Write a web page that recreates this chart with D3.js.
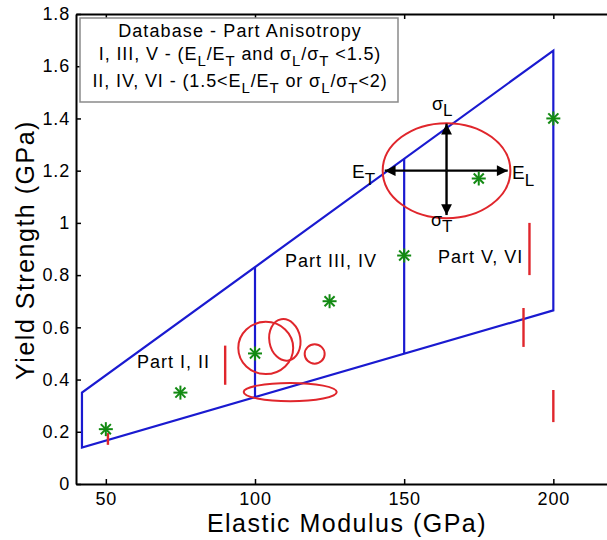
<!DOCTYPE html>
<html>
<head>
<meta charset="utf-8">
<script src="https://cdn.jsdelivr.net/npm/d3@7"></script>
<style>
  html, body { margin: 0; padding: 0; background: #fff; }
  svg { display: block; font-family: "Liberation Sans", Arial, sans-serif; }
</style>
</head>
<body>
<svg id="chart" width="607" height="540"></svg>
<script>
// Axis ranges and ticks
const xDomain = [40, 220];
const yDomain = [0, 1.8];
const xTicks = [50, 100, 150, 200];
const yTicks = [0, 0.2, 0.4, 0.6, 0.8, 1, 1.2, 1.4, 1.6, 1.8];

// Database envelope (blue): upper and lower bounds, region dividers
const envelopeX = [42, 200];
const envelopeUpper = [0.35, 1.66];
const envelopeLower = [0.14, 0.665];
const dividerX = [100, 150];

// Part data (green asterisks)
const partModulus = [50, 75, 100, 125, 150, 175, 200];
const partStrength = [0.21, 0.35, 0.50, 0.70, 0.875, 1.17, 1.40];

// Red vertical ranges: [modulus, low, high]
const rangeModulus = [50.7, 90, 190, 192, 200];
const rangeLow = [0.15, 0.38, 0.525, 0.80, 0.237];
const rangeHigh = [0.195, 0.53, 0.674, 1.00, 0.36];

// Red ellipses: center (modulus, strength), radii (modulus, strength), tilt in degrees
const ellCx = [103.6, 110, 120, 111.8, 164.2];
const ellCy = [0.521, 0.552, 0.498, 0.352, 1.20];
const ellRx = [9.2, 5.2, 3.35, 15.6, 21.4];
const ellRy = [0.10, 0.08, 0.037, 0.035, 0.182];
const ellTilt = [0, -10, 0, 0, 0];

// Anisotropy arrows in the large ellipse
const arrowCenter = [164.2, 1.20];
const arrowXEnds = [143.5, 184.7];
const arrowYEnds = [1.03, 1.38];

// Region labels
const partLabels = ["Part I, II", "Part III, IV", "Part V, VI"];
const partLabelX = [137, 285, 438];
const partLabelY = [368, 267, 263];

const svg = d3.select("#chart");
const x = d3.scaleLinear().domain(xDomain).range([76, 613]);
const y = d3.scaleLinear().domain(yDomain).range([484, 14]);

const blue = "#1a1ad0";
const red = "#e0262c";
const green = "#138a13";

// Envelope polygon and dividers
const env = svg.append("g").attr("fill", "none").attr("stroke", blue).attr("stroke-width", 2.2);
const outline = [
  [envelopeX[0], envelopeLower[0]],
  [envelopeX[0], envelopeUpper[0]],
  [envelopeX[1], envelopeUpper[1]],
  [envelopeX[1], envelopeLower[1]]
];
env.append("path")
  .attr("d", d3.line().x(d => x(d[0])).y(d => y(d[1]))(outline) + "Z")
  .attr("stroke-linejoin", "miter");
const interp = (xs, ys, v) => ys[0] + (v - xs[0]) / (xs[1] - xs[0]) * (ys[1] - ys[0]);
dividerX.forEach(v => {
  env.append("line")
    .attr("x1", x(v)).attr("x2", x(v))
    .attr("y1", y(interp(envelopeX, envelopeLower, v)))
    .attr("y2", y(interp(envelopeX, envelopeUpper, v)));
});

// Red ellipses
const ell = svg.append("g").attr("fill", "none").attr("stroke", red).attr("stroke-width", 2);
ellCx.forEach((cx, i) => {
  const px = x(cx), py = y(ellCy[i]);
  ell.append("ellipse")
    .attr("cx", px).attr("cy", py)
    .attr("rx", x(cx + ellRx[i]) - px)
    .attr("ry", py - y(ellCy[i] + ellRy[i]))
    .attr("transform", `rotate(${ellTilt[i]},${px},${py})`);
});

// Red vertical ranges
const rng = svg.append("g").attr("stroke", red).attr("stroke-width", 2.4);
rangeModulus.forEach((m, i) => {
  rng.append("line")
    .attr("x1", x(m)).attr("x2", x(m))
    .attr("y1", y(rangeLow[i])).attr("y2", y(rangeHigh[i]));
});

// Arrows
const defs = svg.append("defs");
defs.append("marker")
  .attr("id", "head").attr("viewBox", "0 0 10 10")
  .attr("refX", 10).attr("refY", 5)
  .attr("markerWidth", 5).attr("markerHeight", 4.5)
  .attr("markerUnits", "strokeWidth")
  .attr("orient", "auto")
  .append("path").attr("d", "M0,0 L10,5 L0,10 Z").attr("fill", "#000");
const arr = svg.append("g").attr("stroke", "#000").attr("stroke-width", 2.4);
const acx = x(arrowCenter[0]), acy = y(arrowCenter[1]);
arrowXEnds.forEach(v => {
  arr.append("line").attr("x1", acx).attr("y1", acy).attr("x2", x(v)).attr("y2", acy)
    .attr("marker-end", "url(#head)");
});
arrowYEnds.forEach(v => {
  arr.append("line").attr("x1", acx).attr("y1", acy).attr("x2", acx).attr("y2", y(v))
    .attr("marker-end", "url(#head)");
});

// Text with subscripts: parts are {t} for normal runs and {sub} for subscripts
function richText(g, tx, ty, parts, size, subSize, anchor, spacing) {
  const t = g.append("text").attr("x", tx).attr("y", ty).attr("font-size", size)
    .attr("text-anchor", anchor).attr("letter-spacing", spacing).attr("fill", "#000");
  const drop = Math.round(size * 0.36);
  let down = false;
  parts.forEach(p => {
    if (p.sub !== undefined) {
      t.append("tspan").attr("dy", down ? 0 : drop).attr("font-size", subSize).text(p.sub);
      down = true;
    } else {
      t.append("tspan").attr("dy", down ? -drop : 0).text(p.t);
      down = false;
    }
  });
  return t;
}

const al = svg.append("g");
richText(al, 432, 110, [{ t: "σ" }, { sub: "L" }], 18, 17, "start", 0);
richText(al, 352, 178, [{ t: "E" }, { sub: "T" }], 19, 17, "start", 0);
richText(al, 512, 179, [{ t: "E" }, { sub: "L" }], 19, 17, "start", 0);
richText(al, 431, 226, [{ t: "σ" }, { sub: "T" }], 18, 17, "start", 0);

// Green asterisk markers
const star = svg.append("g").attr("stroke", green).attr("stroke-width", 2);
partModulus.forEach((m, i) => {
  const px = x(m), py = y(partStrength[i]);
  const r = 7, d = r * 0.72;
  const g = star.append("g");
  g.append("line").attr("x1", px).attr("x2", px).attr("y1", py - r).attr("y2", py + r);
  g.append("line").attr("x1", px - r).attr("x2", px + r).attr("y1", py).attr("y2", py);
  g.append("line").attr("x1", px - d).attr("x2", px + d).attr("y1", py - d).attr("y2", py + d);
  g.append("line").attr("x1", px - d).attr("x2", px + d).attr("y1", py + d).attr("y2", py - d);
});

// Region labels
svg.append("g").selectAll("text").data(partLabels).join("text")
  .attr("x", (d, i) => partLabelX[i]).attr("y", (d, i) => partLabelY[i])
  .attr("font-size", 18).attr("letter-spacing", 1).attr("fill", "#000").text(d => d);

// Axes
const xAxisB = d3.axisBottom(x).tickValues(xTicks).tickSizeInner(-5).tickSizeOuter(0).tickPadding(8);
const xAxisT = d3.axisTop(x).tickValues(xTicks).tickSizeInner(-5).tickSizeOuter(0).tickFormat("");
const yAxisL = d3.axisLeft(y).tickValues(yTicks).tickSizeInner(-5).tickSizeOuter(0).tickPadding(6)
  .tickFormat(d => String(+d.toFixed(1)));

function styleAxis(g) {
  g.select(".domain").attr("stroke", "#000").attr("stroke-width", 2);
  g.selectAll(".tick line").attr("stroke", "#000").attr("stroke-width", 1.5);
  g.selectAll(".tick text").attr("font-size", 18).attr("letter-spacing", 0.8).attr("fill", "#000")
    .attr("font-family", "Liberation Sans, Arial, sans-serif");
}
svg.append("g").attr("transform", `translate(0,${y(0)})`).call(xAxisB).call(styleAxis);
svg.append("g").attr("transform", `translate(0,${y(1.8)})`).call(xAxisT).call(styleAxis);
svg.append("g").attr("transform", `translate(${x(40)},0)`).call(yAxisL).call(styleAxis);

// Axis titles
svg.append("text").attr("x", 347).attr("y", 532).attr("text-anchor", "middle")
  .attr("font-size", 25).attr("letter-spacing", 1.5).attr("fill", "#000").text("Elastic Modulus (GPa)");
svg.append("text").attr("transform", "translate(34,250) rotate(-90)").attr("text-anchor", "middle")
  .attr("font-size", 25).attr("letter-spacing", 1.5).attr("fill", "#000").text("Yield Strength (GPa)");

// Legend box
const lg = svg.append("g");
lg.append("rect").attr("x", 80).attr("y", 18).attr("width", 318).attr("height", 84)
  .attr("fill", "#fff").attr("stroke", "#8a8a8a").attr("stroke-width", 1.5);
const lcx = 240;
richText(lg, lcx, 37, [{ t: "Database - Part Anisotropy" }], 18, 16, "middle", 1.1);
richText(lg, lcx, 60, [{ t: "I, III, V - (E" }, { sub: "L" }, { t: "/E" }, { sub: "T" }, { t: " and σ" }, { sub: "L" },
  { t: "/σ" }, { sub: "T" }, { t: " <1.5)" }], 18, 15, "middle", 0.9);
richText(lg, lcx, 87, [{ t: "II, IV, VI - (1.5<E" }, { sub: "L" }, { t: "/E" }, { sub: "T" }, { t: " or σ" }, { sub: "L" },
  { t: "/σ" }, { sub: "T" }, { t: "<2)" }], 18, 15, "middle", 0.9);
</script>
</body>
</html>
